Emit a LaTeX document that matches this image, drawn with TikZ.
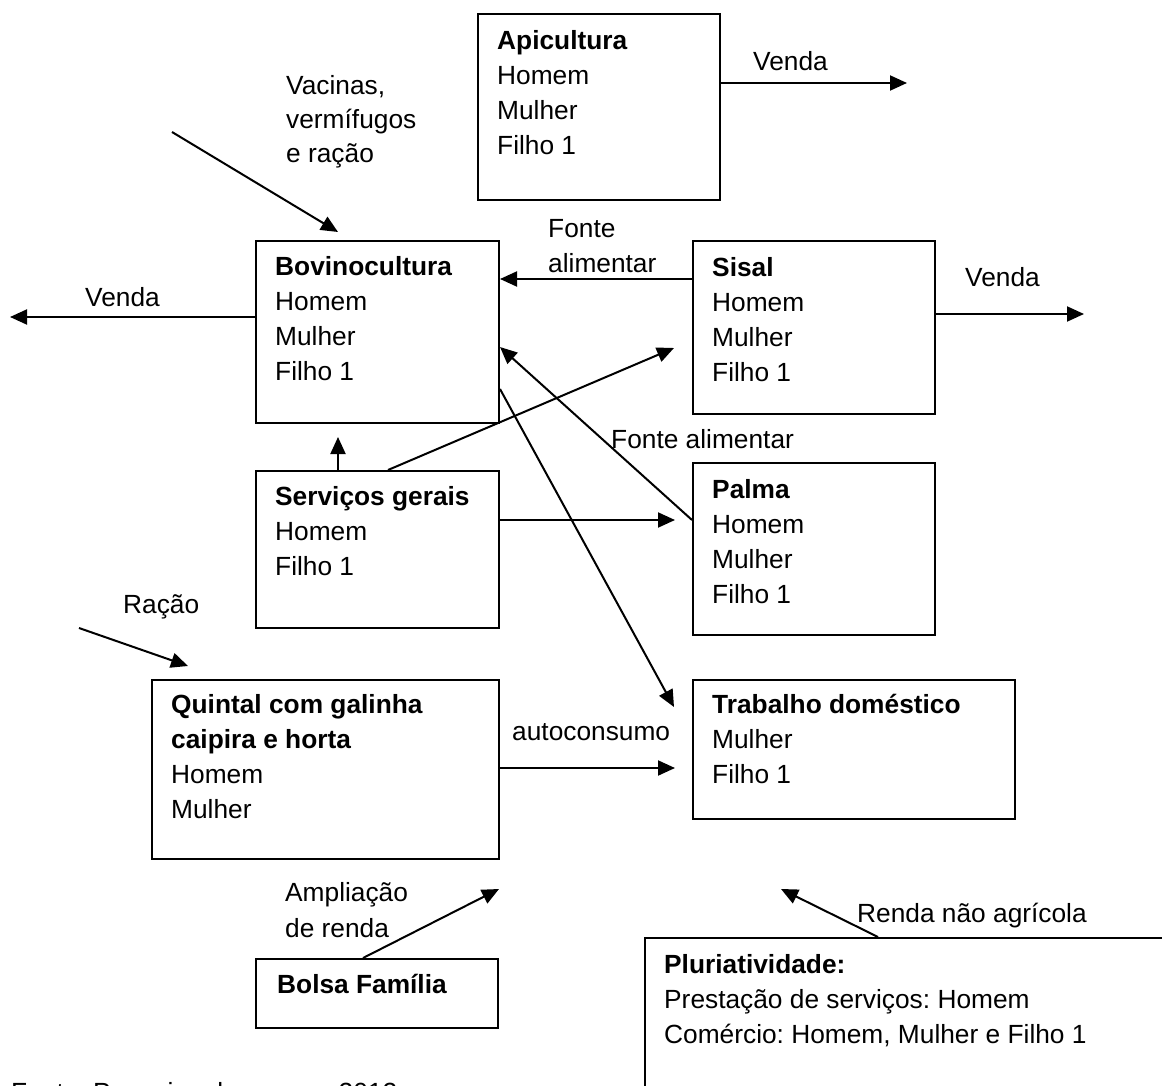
\documentclass[tikz,border=0pt]{standalone}
\usepackage{fontspec}
\setmainfont{Liberation Sans}
\usetikzlibrary{arrows.meta,calc}
\frenchspacing

% first-line strut: puts the first baseline 26pt below the top of a text block
\newcommand{\tallrule}{\rule{0pt}{26pt}}

\begin{document}
\begin{tikzpicture}[x=1pt,y=-1pt,
  every node/.style={font=\fontsize{26.3}{35}\selectfont},
  box/.style={draw, line width=2pt, inner sep=0pt, anchor=north west},
  txt/.style={inner sep=0pt, anchor=north west, align=left},
  lbl/.style={inner sep=0pt, anchor=base west},
  arr/.style={line width=2pt, -{Triangle[length=17pt,width=15pt]}}]

\useasboundingbox (0,0) rectangle (1162,1086);

% activity boxes
\node[box, minimum width=242pt, minimum height=186pt] (api)     at (477,13)  {};
\node[box, minimum width=243pt, minimum height=182pt] (bov)     at (255,240) {};
\node[box, minimum width=242pt, minimum height=173pt] (sisal)   at (692,240) {};
\node[box, minimum width=243pt, minimum height=157pt] (serv)    at (255,470) {};
\node[box, minimum width=242pt, minimum height=172pt] (palma)   at (692,462) {};
\node[box, minimum width=347pt, minimum height=179pt] (quintal) at (151,679) {};
\node[box, minimum width=322pt, minimum height=139pt] (trab)    at (692,679) {};
\node[box, minimum width=242pt, minimum height=69pt]  (bolsa)   at (255,958) {};
\node[box, minimum width=560pt, minimum height=240pt] (pluri)   at (644,937) {};

% box contents
\node[txt] (apiT) at ($(api.north west)+(20,10)$)
  {\tallrule\textbf{Apicultura}\\Homem\\Mulher\\Filho 1};
\node[txt] (bovT) at ($(bov.north west)+(20,9)$)
  {\tallrule\textbf{Bovinocultura}\\Homem\\Mulher\\Filho 1};
\node[txt] (sisalT) at ($(sisal.north west)+(20,10)$)
  {\tallrule\textbf{Sisal}\\Homem\\Mulher\\Filho 1};
\node[txt] (servT) at ($(serv.north west)+(20,9)$)
  {\tallrule\textbf{Serviços gerais}\\Homem\\Filho 1};
\node[txt] (palmaT) at ($(palma.north west)+(20,10)$)
  {\tallrule\textbf{Palma}\\Homem\\Mulher\\Filho 1};
\node[txt] (quintalT) at ($(quintal.north west)+(20,8)$)
  {\tallrule\textbf{Quintal com galinha}\\\textbf{caipira e horta}\\Homem\\Mulher};
\node[txt] (trabT) at ($(trab.north west)+(20,8)$)
  {\tallrule\textbf{Trabalho doméstico}\\Mulher\\Filho 1};
\node[txt] (bolsaT) at ($(bolsa.north west)+(22,9)$)
  {\tallrule\textbf{Bolsa Família}};
\node[txt] (pluriT) at ($(pluri.north west)+(20,10)$)
  {\tallrule\textbf{Pluriatividade:}\\Prestação de serviços: Homem\\Comércio: Homem, Mulher e Filho 1};

% free ends of the external flows
\coordinate (apiOut) at (907,83);
\coordinate (bovOut) at (10,317);
\coordinate (sisOut) at (1084,314);
\coordinate (vacIn)  at (172,132);
\coordinate (racIn)  at (79,628);

% flows
\draw[arr] ($(api.north east)+(0,70)$) -- (apiOut);
\draw[arr] ($(bov.north west)+(0,77)$) -- (bovOut);
\draw[arr] ($(sisal.north east)+(0,74)$) -- (sisOut);
\draw[arr] (vacIn) -- ($(bov.north west)+(83,-8)$);
\draw[arr] ($(sisal.north west)+(0,39)$) -- ($(bov.north east)+(0,39)$);
\draw[arr] ($(serv.north west)+(83,0)$) -- ($(bov.south west)+(83,13)$);
\draw[arr] ($(serv.north west)+(133,0)$) -- ($(sisal.north west)+(-18,108)$);
\draw[arr] ($(palma.north west)+(0,58)$) -- ($(bov.north east)+(0,107)$);
\draw[arr] ($(bov.north east)+(0,149)$) -- ($(trab.north west)+(-18,28)$);
\draw[arr] ($(serv.north east)+(0,50)$) -- ($(palma.north west)+(-17,58)$);
\draw[arr] ($(quintal.north east)+(0,89)$) -- ($(trab.north west)+(-17,89)$);
\draw[arr] (racIn) -- ($(quintal.north west)+(37,-13)$);
\draw[arr] ($(bolsa.north west)+(108,0)$) -- ($(quintal.south east)+(-1,29)$);
\draw[arr] ($(pluri.north west)+(234,0)$) -- ($(trab.south west)+(89,69)$);

% flow labels
\node[lbl] (vendaA) at (753,71) {Venda};
\node[lbl] (vendaB) at (85,306) {Venda};
\node[lbl] (vendaS) at (965,286) {Venda};
\node[txt, font=\fontsize{26.3}{34}\selectfont] (vac) at (286,68)
  {\tallrule Vacinas,\\vermífugos\\e ração};
\node[txt] (fonte1) at (548,211) {\tallrule Fonte\\alimentar};
\node[lbl] (fonte2) at (611,448) {Fonte alimentar};
\node[lbl] (racao) at (123,613) {Ração};
\node[lbl] (auto) at (512,740) {autoconsumo};
\node[txt, font=\fontsize{26.3}{36}\selectfont] (ampl) at (285,875)
  {\tallrule Ampliação\\de renda};
\node[lbl] (renda) at (857,922) {Renda não agrícola};
\node[lbl] (fonteRef) at (11,1101) {Fonte: Pesquisa de campo, 2012};

\end{tikzpicture}
\end{document}
